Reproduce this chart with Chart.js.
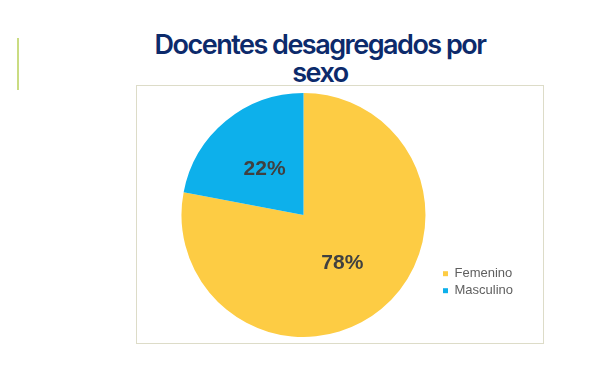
<!DOCTYPE html>
<html>
<head>
<meta charset="utf-8">
<script src="https://cdn.jsdelivr.net/npm/chart.js@4"></script>
<style>
  html, body { margin: 0; padding: 0; background: #ffffff; }
  body { width: 610px; height: 371px; position: relative; overflow: hidden; }
  #sideLine { position: absolute; left: 17px; top: 38px; width: 2px; height: 52px; background: #cadc82; }
  #title {
    position: absolute; left: 120px; top: 31px; width: 400px;
    text-align: center; font-family: Inter, sans-serif; font-weight: 600;
    font-size: 27px; line-height: 28px; letter-spacing: -1.5px; color: #0c2a6b;
  }
  #chartBox {
    position: absolute; left: 136px; top: 85px; width: 406px; height: 257px;
    border: 1px solid #dddcc8; background: #ffffff;
  }
</style>
</head>
<body>
<div id="sideLine"></div>
<div id="title">Docentes desagregados por<br>sexo</div>
<div id="chartBox"><canvas id="pieChart" width="406" height="257"></canvas></div>
<script>
// data
const categories = ["Femenino", "Masculino"];
const shares = [78, 22];
const sliceColors = ["#fdcc44", "#0db0eb"];

// writes the percentage in the middle of each slice
const sliceLabels = {
  id: "sliceLabels",
  afterDatasetsDraw(chart) {
    const { ctx } = chart;
    const meta = chart.getDatasetMeta(0);
    ctx.save();
    ctx.font = "bold 21px 'Liberation Sans', Arial, sans-serif";
    ctx.fillStyle = "#404040";
    ctx.textAlign = "center";
    ctx.textBaseline = "middle";
    meta.data.forEach((arc, i) => {
      const pos = arc.getCenterPoint();
      ctx.fillText(shares[i] + "%", pos.x, pos.y + 1);
    });
    ctx.restore();
  }
};

new Chart(document.getElementById("pieChart"), {
  type: "pie",
  data: {
    labels: categories,
    datasets: [{
      data: shares,
      backgroundColor: sliceColors,
      borderWidth: 0
    }]
  },
  options: {
    responsive: false,
    animation: false,
    layout: { padding: { left: 31, right: 20, top: 7, bottom: 6 } },
    plugins: {
      tooltip: { enabled: false },
      legend: {
        position: "right",
        align: "center",
        title: { display: true, text: " ", padding: { top: 60, bottom: 60 } },
        labels: {
          color: "#5f5f5f",
          boxWidth: 5,
          boxHeight: 5,
          padding: 4,
          font: { family: "'Liberation Sans', Arial, sans-serif", size: 13 }
        }
      }
    }
  },
  plugins: [sliceLabels]
});
</script>
</body>
</html>
